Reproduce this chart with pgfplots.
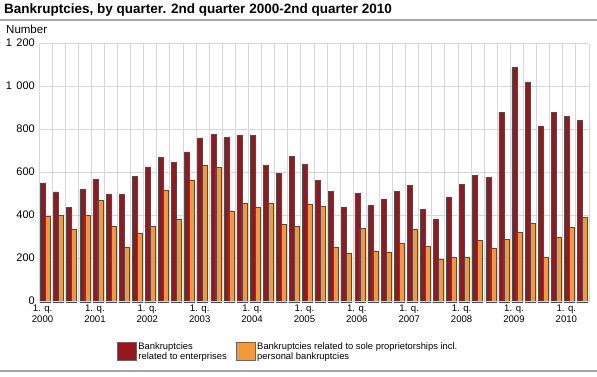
\documentclass[border=0pt]{standalone}
\usepackage{fontspec}
\setmainfont{Liberation Sans}
\usepackage{pgfplots}
\pgfplotsset{compat=1.18}
\definecolor{cred}{RGB}{150,24,30}
\definecolor{corange}{RGB}{242,153,58}
\definecolor{gridgray}{RGB}{215,215,215}
\begin{document}
\begin{tikzpicture}
\path[use as bounding box] (0pt,0pt) rectangle (597pt,377pt);
\node[anchor=west,font=\bfseries\fontsize{13.5}{15}\selectfont,inner sep=0pt] at (4pt,367pt) {Bankruptcies, by quarter. 2nd quarter 2000-2nd quarter 2010};
\draw[gray!70,line width=1.5pt] (0pt,357pt) -- (597pt,357pt);
\draw[gray!70,line width=1.5pt] (0pt,6pt) -- (597pt,6pt);
\node[anchor=west,font=\fontsize{11.5}{12}\selectfont,inner sep=0pt] at (6pt,348pt) {Number};
\begin{axis}[
  at={(39pt,75pt)}, anchor=south west,
  width=550pt, height=258pt, scale only axis,
  ybar=0pt, bar width=5pt,
  xmin=-0.5, xmax=41.5, ymin=0, ymax=1200,
  ytick={0,200,...,1200},
  xtick={0,4,...,40},
  xticklabels={{1. q.\\2000},{1. q.\\2001},{1. q.\\2002},{1. q.\\2003},{1. q.\\2004},{1. q.\\2005},{1. q.\\2006},{1. q.\\2007},{1. q.\\2008},{1. q.\\2009},{1. q.\\2010}},
  xticklabel style={align=center,font=\fontsize{9.6}{11}\selectfont,inner sep=1pt,xshift=-3pt,yshift=-2pt},
  yticklabel style={font=\fontsize{11}{12}\selectfont,inner sep=2pt,xshift=-2pt,yshift=1pt},
  /pgf/number format/assume math mode=true,
  /pgf/number format/1000 sep={\hspace{0.4em}},
  minor xtick={-0.5,0.5,...,41.5},
  xminorgrids=true, ymajorgrids=true,
  major grid style={gridgray,line width=1pt},
  minor grid style={gridgray,line width=1pt},
  major tick length=0pt, minor tick length=0pt,
  axis line style={draw=none},
  clip=false,
  legend columns=2,
  legend cell align=left,
  legend style={draw=none,fill=none,at={(0.453,0)},anchor=north,yshift=-36pt,
    font=\fontsize{9.4}{10.5}\selectfont,
    cells={align=left},
    /tikz/every even column/.append style={column sep=7pt}},
  legend image code/.code={\draw[#1,draw=gray!80!black] (0pt,-9pt) rectangle (19pt,9pt);},
  every axis plot/.append style={draw=black!70,line width=0.5pt},
]
\addplot[fill=cred] coordinates {
(0,554)(1,512)(2,441)(3,523)(4,571)(5,503)(6,500)(7,585)(8,628)(9,673)
(10,650)(11,698)(12,763)(13,780)(14,766)(15,774)(16,774)(17,635)(18,599)(19,676)
(20,641)(21,567)(22,515)(23,440)(24,506)(25,450)(26,478)(27,516)(28,543)(29,432)
(30,384)(31,485)(32,546)(33,588)(34,580)(35,881)(36,1093)(37,1020)(38,816)(39,881)
(40,864)(41,844)};
\addplot[fill=corange] coordinates {
(0,399)(1,404)(2,337)(3,404)(4,472)(5,351)(6,255)(7,319)(8,350)(9,522)
(10,384)(11,568)(12,636)(13,627)(14,420)(15,457)(16,443)(17,458)(18,362)(19,350)
(20,455)(21,446)(22,255)(23,228)(24,341)(25,238)(26,232)(27,271)(28,337)(29,259)
(30,198)(31,206)(32,206)(33,286)(34,252)(35,291)(36,324)(37,364)(38,209)(39,300)
(40,347)(41,395)};
\legend{{Bankruptcies\\related to enterprises},{Bankruptcies related to sole proprietorships incl.\\personal bankruptcies}}
\draw[gridgray,line width=1pt] (axis cs:-0.5,0) -- (axis cs:41.5,0);
\end{axis}
\end{tikzpicture}
\end{document}
